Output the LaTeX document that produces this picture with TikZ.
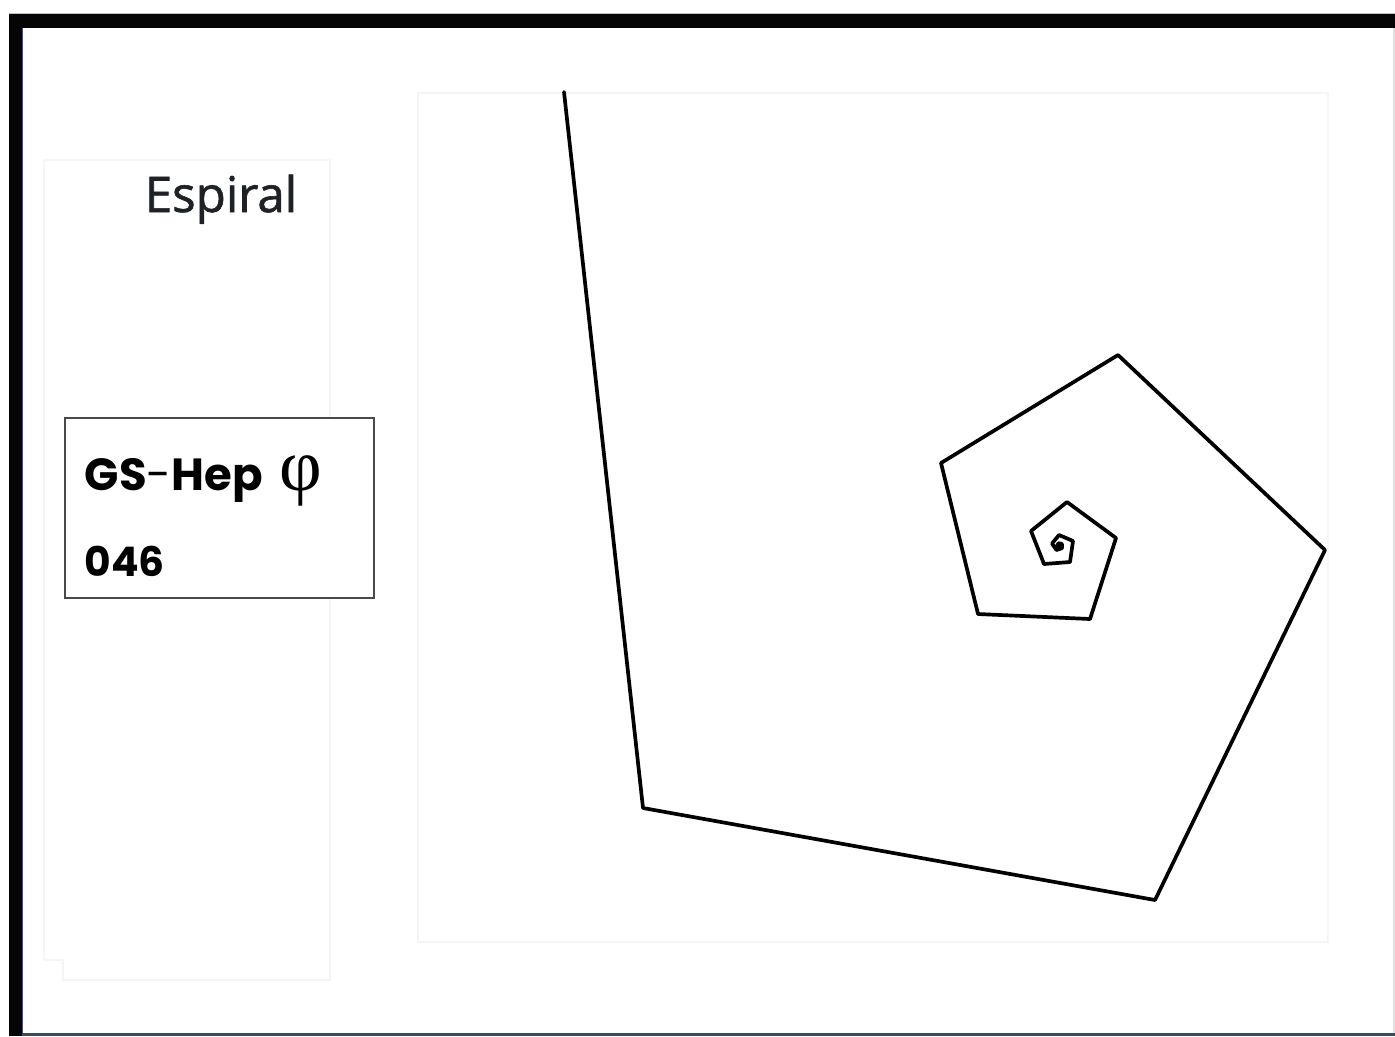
\documentclass[tikz,border=0pt]{standalone}
\usepackage{fontspec}
\setmainfont{Open Sans}
\newfontfamily\titlefont[FakeBold=1.2]{Open Sans}
\newfontfamily\geofont{Poppins}
\newfontfamily\phifont{Liberation Serif}
\definecolor{frameblk}{HTML}{050505}
\definecolor{slate}{HTML}{3E4A56}
\definecolor{faint}{HTML}{F5F5F5}
\definecolor{textdark}{HTML}{1E2226}
\definecolor{boxgray}{HTML}{4A4A4A}
\tikzset{
  spiralline/.style={line width=1.05pt, line join=round, line cap=round, black},
  faintline/.style={draw=faint, line width=0.5pt},
  labelbox/.style={draw=boxgray, line width=0.6pt, minimum width=3.09cm, minimum height=1.80cm, inner sep=0pt, fill=white},
}
\begin{document}
\begin{tikzpicture}[x=0.01cm,y=-0.01cm]
\useasboundingbox (0,0) rectangle (1395,1036);
\fill[white] (0,0) rectangle (1395,1036);
% window frame
\fill[frameblk] (9,14) rectangle (1395,28);
\fill[frameblk] (9,14) rectangle (22,1036);
\draw[black!25, line width=0.4pt] (9,13.5) -- (1395,13.5);
\fill[slate] (22,1033) rectangle (1395,1036);
\fill[black!12] (1392.5,28) rectangle (1395,1033);
\draw[blue!45!gray, line width=0.5pt] (22.5,28) -- (22.5,1033);
% faint panels
\draw[faintline] (44,160) -- (330,160) -- (330,980) -- (63,980) -- (63,960) -- (44,960) -- cycle;
\draw[faintline] (418,93) rectangle (1328,942);
% texts
\node[font=\titlefont\fontsize{14}{16}\selectfont, text=textdark, anchor=base] (title) at (221,212) {Espiral};
\node[labelbox, anchor=north west] (box) at (64,417) {};
\node[anchor=base west, inner sep=0pt, font=\geofont\fontsize{12.8}{15}\selectfont] (gs) at (84,490) {\textbf{GS}-\textbf{Hep}};
\node[anchor=base west, inner sep=0pt, font=\phifont\fontsize{21}{24}\selectfont] (phi) at (279,490) {φ};
\node[anchor=base west, inner sep=0pt, font=\geofont\bfseries\fontsize{11.6}{14}\selectfont] (num) at (84,576) {046};
% spiral
\draw[spiralline] (564,92) -- (643,808) -- (1155,900) -- (1325,550) -- (1118,355)
  -- (941,463) -- (978,614) -- (1090,619) -- (1116,538) -- (1067,502)
  -- (1031,531) -- (1044,564) -- (1070,562) -- (1073,541) -- (1059,535)
  -- (1052,543.5) -- (1056.4,550) -- (1062,548.2) -- (1061.9,543.9)
  -- (1058.5,543.2) -- (1057,546) -- (1059,547.5) -- (1060.5,546);
\end{tikzpicture}
\end{document}
